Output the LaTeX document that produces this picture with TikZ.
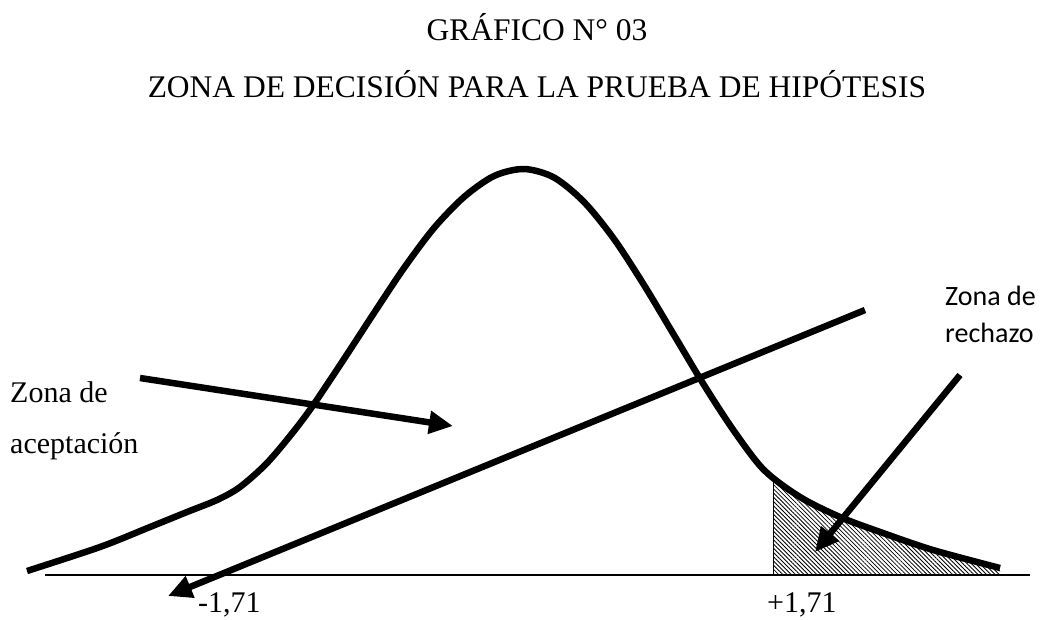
\documentclass[tikz,border=0pt]{standalone}
\usepackage{fontspec}
\setmainfont{Liberation Serif}
\newfontfamily\calibri{Carlito}
\usetikzlibrary{arrows.meta,patterns.meta}

\begin{document}
\begin{tikzpicture}[x=1pt,y=-1pt,
    curva/.style={line width=6.5pt},
    flecha/.style={line width=6.5pt,-{Triangle[length=24pt,width=22pt]}},
    titulo/.style={anchor=base,inner sep=0pt,font=\fontsize{31.5}{38}\selectfont},
    rotulo/.style={anchor=base west,inner sep=0pt,font=\fontsize{30}{36}\selectfont},
    rotulosans/.style={anchor=base west,inner sep=0pt,font=\calibri\fontsize{28}{34}\selectfont}]
  \useasboundingbox (0,0) rectangle (1044,619);
  % titles
  \node[titulo] (t1) at (537,40) {GRÁFICO N° 03};
  \node[titulo] (t2) at (537,97) {ZONA DE DECISIÓN PARA LA PRUEBA DE HIPÓTESIS};
  % bell curve points
  \def\campana{(27,571) (100,547) (150,527) (187,512) (217,500) (240,487)
    (267,463) (294,431) (314,404) (344,359) (374,313) (404,268) (434,228)
    (464,197) (494,176) (524,169) (554,177.5) (584,202) (614,239) (644,285)
    (674,335) (704,385) (734,431) (764,470) (800,497) (840,517) (883,533)
    (933,550) (1000,568)}
  % hatched tail
  \begin{scope}
    \clip (773,0) rectangle (1044,575);
    \fill[pattern={Lines[angle=-45,distance=3pt,line width=0.8pt]}]
      plot[smooth] coordinates {\campana} -- (1000,575) -- (27,575) -- cycle;
  \end{scope}
  % axis
  \coordinate (x0) at (45,575);
  \coordinate (x1) at (1030,575);
  \coordinate (v0) at (773,575);
  \coordinate (v1) at (773,476);
  \draw[line width=1.5pt] (x0) -- (x1);
  \draw[line width=1pt] (v0) -- (v1);
  \draw[curva] plot[smooth] coordinates {\campana};
  % arrows
  \coordinate (a0) at (140,378);
  \coordinate (a1) at (453,426);
  \coordinate (b0) at (865,310);
  \coordinate (b1) at (168,596);
  \coordinate (r0) at (960,375);
  \coordinate (r1) at (815,552);
  \draw[flecha] (a0) to (a1);
  \draw[flecha] (b0) to (b1);
  \draw[flecha] (r0) to (r1);
  % labels
  \node[rotulo] (za) at (10,402) {Zona de};
  \node[rotulo] (ac) at (10,453) {aceptación};
  \node[rotulosans] (zr) at (945,305) {Zona de};
  \node[rotulosans] (re) at (945,342) {rechazo};
  \node[rotulo] (m) at (198,612) {-1,71};
  \node[rotulo] (p) at (767,612) {+1,71};
\end{tikzpicture}
\end{document}
